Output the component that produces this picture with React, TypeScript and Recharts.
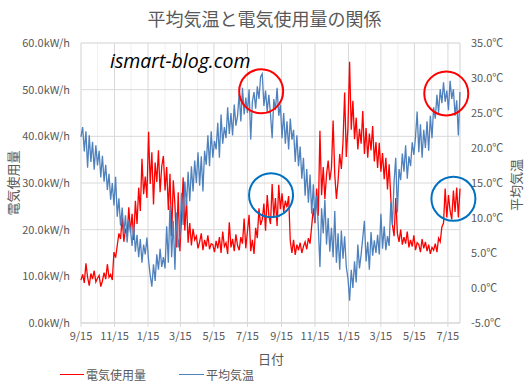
import React from 'react';
import { LineChart, Line, XAxis, YAxis, CartesianGrid, ReferenceDot } from 'recharts';

// one reading every 3 days, starting 9/15
const sampleStep = 3;

const usageKwh = [
  9.2, 10.4, 8.6, 12.8, 9.8, 8.0, 10.6, 9.4, 11.2, 8.8,
  9.6, 10.2, 7.8, 9.0, 10.8, 9.4, 12.6, 9.8, 10.4, 9.2,
  15.2, 14.0, 16.6, 19.2, 18.0, 22.6, 17.4, 20.2, 18.6, 24.8,
  19.4, 23.4, 17.8, 26.2, 21.2, 29.0, 24.0, 35.2, 27.6, 31.4,
  26.8, 41.0, 29.8, 36.6, 25.4, 34.4, 30.2, 37.0, 28.0, 33.6,
  35.8, 28.4, 33.4, 24.2, 32.0, 18.6, 30.6, 25.4, 16.2, 28.0,
  15.4, 22.6, 31.2, 19.8, 26.4, 17.2, 21.4, 16.6, 20.2, 17.8,
  18.6, 16.0, 17.4, 19.2, 15.6, 17.8, 16.4, 18.8, 15.8, 17.0,
  16.8, 15.2, 17.6, 16.0, 18.4, 15.0, 19.6, 16.4, 17.2, 14.8,
  21.6, 16.2, 18.0, 15.4, 19.0, 16.6, 15.6, 18.4, 17.0, 22.4,
  16.0, 19.6, 23.2, 15.4, 17.8, 14.8, 20.4, 18.2, 24.6, 21.0,
  22.2, 25.6, 19.8, 27.4, 23.0, 21.2, 29.8, 22.6, 26.8, 20.8,
  29.6, 24.4, 27.8, 23.8, 26.2, 24.8, 27.2, 17.6, 15.0, 17.8,
  14.6, 16.8, 15.6, 17.2, 15.0, 16.4, 17.4, 15.8, 18.2, 17.0,
  20.8, 24.6, 21.4, 28.8, 23.0, 41.2, 27.4, 33.4, 26.6, 31.8,
  34.8, 30.6, 33.2, 43.4, 31.8, 26.6, 30.4, 36.2, 33.0, 38.8,
  49.4, 35.6, 42.0, 56.0, 41.4, 47.6, 39.4, 44.0, 37.2, 41.6,
  38.4, 45.4, 36.2, 41.8, 35.4, 40.6, 37.0, 42.2, 34.6, 38.8,
  33.2, 38.6, 32.4, 36.4, 30.8, 35.4, 28.6, 34.0, 26.8, 21.0,
  18.6, 26.8, 19.2, 17.4, 20.0, 16.8, 18.4, 17.0, 19.6, 16.2,
  17.8, 16.4, 18.8, 15.6, 17.2, 16.8, 15.2, 18.0, 16.0, 17.4,
  15.4, 16.8, 14.8, 16.2, 15.6, 17.0, 15.2, 18.2, 17.4, 20.6,
  21.4, 28.8, 22.6, 27.4, 24.0, 22.2, 28.4, 23.8, 29.0, 22.6,
  28.8,
];

const avgTemp = [
  21.6, 23.0, 19.5, 22.4, 17.2, 21.8, 18.0, 20.9, 16.9, 20.4,
  17.5, 19.6, 15.8, 18.9, 15.2, 17.6, 14.0, 16.3, 12.6, 15.0,
  11.8, 15.9, 10.2, 12.8, 8.9, 11.5, 7.8, 10.4, 6.5, 9.6,
  8.4, 6.0, 9.1, 5.2, 7.6, 4.4, 7.0, 3.6, 6.2, 4.8,
  7.2, 4.0, 1.8, 0.2, 3.4, 1.0, 4.8, 2.6, 5.6, 3.0,
  4.4, 2.8, 8.8, 3.6, 11.8, 4.4, 9.6, 2.6, 10.8, 5.8,
  7.4, 13.6, 9.0, 15.2, 11.8, 16.6, 12.4, 17.4, 13.8, 18.2,
  15.0, 19.4, 14.6, 18.8, 13.8, 19.6, 17.6, 21.8, 17.4, 22.4,
  18.6, 21.0, 19.8, 23.6, 18.6, 24.8, 20.6, 23.0, 21.4, 25.8,
  22.0, 25.0, 21.8, 26.2, 23.2, 24.6, 27.8, 23.8, 28.6, 24.8,
  27.2, 25.0, 28.4, 21.2, 26.6, 28.0, 25.6, 28.8, 27.0, 30.2,
  30.6, 26.0, 28.2, 25.2, 27.6, 24.8, 21.4, 27.0, 25.4, 28.6,
  24.6, 26.2, 21.4, 25.0, 20.6, 23.8, 19.8, 24.2, 21.2, 22.6,
  18.0, 21.8, 17.4, 20.2, 15.6, 18.6, 13.2, 17.0, 12.2, 16.2,
  10.6, 14.8, 9.4, 13.2, 8.8, 3.0, 11.4, 7.8, 12.6, 6.2,
  10.0, 5.2, 8.6, 4.4, 11.0, 3.6, 7.8, 2.6, 8.2, 4.2,
  7.4, 3.0, 1.4, -1.8, 2.6, 0.0, 3.8, 0.8, 6.2, 2.8,
  4.8, 7.2, 9.6, 3.8, 6.6, 2.6, 8.0, 4.6, 6.8, 5.0,
  7.6, 4.8, 10.6, 5.6, 8.8, 5.4, 7.4, 6.0, 12.2, 9.0,
  15.2, 18.6, 10.8, 17.0, 15.4, 19.2, 16.6, 20.4, 15.6, 18.8,
  17.4, 20.8, 19.0, 21.6, 25.2, 19.4, 23.4, 18.6, 22.6, 20.0,
  23.8, 19.6, 24.6, 21.4, 25.8, 24.2, 27.6, 25.0, 28.4, 26.4,
  29.4, 26.6, 28.2, 25.4, 29.6, 27.0, 28.4, 24.6, 26.8, 21.8,
  28.0,
];

// days counted from the first 9/15
const tickDays = [0, 61, 122, 181, 242, 303, 365, 426, 487, 546, 607, 668];
const tickLabels = ['9/15', '11/15', '1/15', '3/15', '5/15', '7/15', '9/15', '11/15', '1/15', '3/15', '5/15', '7/15'];
const monthDays = [30, 91, 153, 212, 273, 334, 395, 456, 518, 577, 638];
const kwTicks = [0, 10, 20, 30, 40, 50, 60];
const kwMinorTicks = [0, 2, 4, 6, 8, 10, 12, 14, 16, 18, 20, 22, 24, 26, 28, 30, 32, 34, 36, 38, 40, 42, 44, 46, 48, 50, 52, 54, 56, 58, 60];
const tempTicks = [-5, 0, 5, 10, 15, 20, 25, 30, 35];

// highlighted spots
const hotMarks = [{ day: 328, temp: 28.1 }, { day: 665, temp: 27.8 }];
const usageMarks = [{ day: 346, kw: 27.4 }, { day: 678, kw: 26.6 }];

const rows = usageKwh.map((kw, i) => ({ day: i * sampleStep, kw, temp: avgTemp[i] }));

const font = "'Noto Sans CJK JP', 'Noto Sans', sans-serif";
const gray = '#595959';
const tick = { fill: gray, fontSize: 11, fontFamily: font };

export default function App() {
  return (
    <div style={{ position: 'absolute', left: 0, top: 0, width: 529, height: 387, background: '#fff', fontFamily: font }}>
      <LineChart width={529} height={387} data={rows} margin={{ top: 43, right: 9, bottom: 34, left: 6 }}>
        <XAxis xAxisId="minor" dataKey="day" type="number" domain={[0, 690]} ticks={monthDays} hide />
        <YAxis yAxisId="minor" type="number" domain={[0, 60]} ticks={kwMinorTicks} hide />
        <CartesianGrid xAxisId="minor" yAxisId="minor" stroke="#f0f0f0" />
        <CartesianGrid yAxisId="kw" stroke="#d9d9d9" />
        <XAxis
          dataKey="day"
          type="number"
          domain={[0, 690]}
          ticks={tickDays}
          tickFormatter={(v) => tickLabels[tickDays.indexOf(v)]}
          height={30}
          tick={tick}
          stroke="#d9d9d9"
          tickSize={4}
          tickMargin={5}
          interval={0}
        />
        <YAxis
          yAxisId="kw"
          domain={[0, 60]}
          ticks={kwTicks}
          tickFormatter={(v) => v.toFixed(1) + 'kW/h'}
          width={75}
          tick={tick}
          axisLine={false}
          tickLine={false}
          tickMargin={5}
        />
        <YAxis
          yAxisId="temp"
          orientation="right"
          domain={[-5, 35]}
          ticks={tempTicks}
          tickFormatter={(v) => v.toFixed(1) + '℃'}
          width={60}
          tick={tick}
          axisLine={false}
          tickLine={false}
          tickMargin={5}
        />
        <Line yAxisId="kw" dataKey="kw" stroke="#ff0000" strokeWidth={1.3} dot={false} isAnimationActive={false} />
        <Line yAxisId="temp" dataKey="temp" stroke="#4f81bd" strokeWidth={1.3} dot={false} isAnimationActive={false} />
        {hotMarks.map((m) => (
          <ReferenceDot key={'h' + m.day} yAxisId="temp" x={m.day} y={m.temp} r={22} fill="none" stroke="#ff0000" strokeWidth={2} ifOverflow="visible" />
        ))}
        {usageMarks.map((m) => (
          <ReferenceDot key={'u' + m.day} yAxisId="kw" x={m.day} y={m.kw} r={22} fill="none" stroke="#0070c0" strokeWidth={2} ifOverflow="visible" />
        ))}
      </LineChart>

      <div style={{ position: 'absolute', left: 0, width: 529, top: 5, textAlign: 'center', fontSize: 18, color: gray }}>
        平均気温と電気使用量の関係
      </div>
      <div style={{ position: 'absolute', left: 110, top: 47, fontSize: 19.5, fontStyle: 'italic', fontFamily: "'Open Sans', sans-serif", color: '#000' }}>
        ismart-blog.com
      </div>
      <div style={{ position: 'absolute', left: 12, top: 183, transform: 'translate(-50%, -50%) rotate(-90deg)', fontSize: 13, color: gray, whiteSpace: 'nowrap' }}>
        電気使用量
      </div>
      <div style={{ position: 'absolute', left: 515, top: 185, transform: 'translate(-50%, -50%) rotate(-90deg)', fontSize: 13, color: gray, whiteSpace: 'nowrap' }}>
        平均気温
      </div>
      <div style={{ position: 'absolute', left: 271, top: 358, transform: 'translate(-50%, -50%)', fontSize: 13, color: gray }}>
        日付
      </div>
      <div style={{ position: 'absolute', left: 60, top: 366, display: 'flex', alignItems: 'center', fontSize: 12, color: gray }}>
        <span style={{ display: 'inline-block', width: 24, height: 0, borderTop: '1.5px solid #ff0000', marginRight: 2 }} />
        <span>電気使用量</span>
        <span style={{ display: 'inline-block', width: 25, height: 0, borderTop: '1.5px solid #4f81bd', marginLeft: 33, marginRight: 2 }} />
        <span>平均気温</span>
      </div>
    </div>
  );
}
